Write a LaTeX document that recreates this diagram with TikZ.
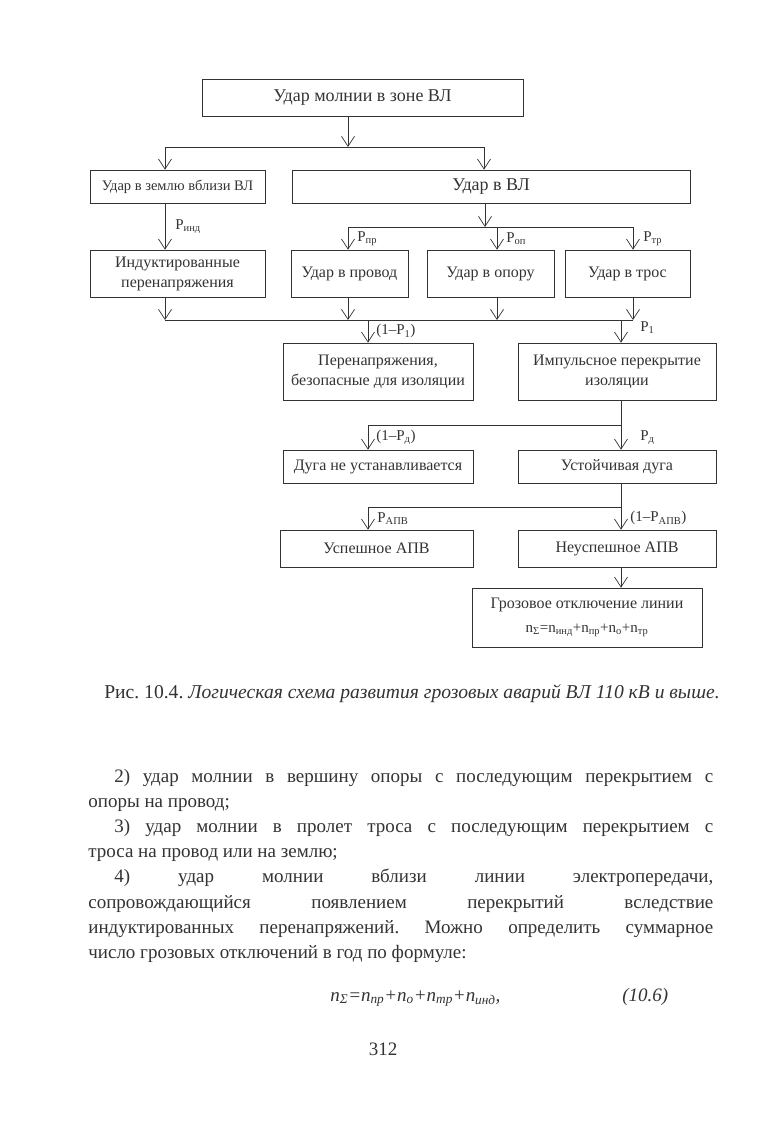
\documentclass[tikz,border=0pt]{standalone}
\usepackage{fontspec}
\setmainfont{Liberation Serif}
\frenchspacing
\usetikzlibrary{arrows.meta, positioning, calc}

\begin{document}
\begin{tikzpicture}[x=1pt, y=-1pt, line width=0.7pt, color=black!80,
  box/.style={draw, rectangle, align=center, inner sep=1pt, font=\fontsize{16}{20}\selectfont},
  big/.style={font=\fontsize{18}{22}\selectfont},
  lbl/.style={anchor=west, inner sep=1pt, font=\fontsize{15}{17}\selectfont},
  arrow/.style={-{Straight Barb[length=10pt, width=13pt]}},
  body/.style={anchor=north west, text width=625pt, align=justify, inner sep=0pt, font=\fontsize{19}{25.1}\selectfont},
  plain/.style={anchor=base west, inner sep=0pt, font=\fontsize{19}{23}\selectfont}]
\fill[white] (0,0) rectangle (772,1121);
\useasboundingbox (0,0) rectangle (772,1121);

\node[box, big, minimum width=321pt, minimum height=37pt] (zone) at (362.5,97.5) {Удар молнии в зоне ВЛ};
\node[box, font=\fontsize{14.5}{18}\selectfont, minimum width=175pt, minimum height=33pt] (ground) at (177.5,186.5) {Удар в землю вблизи ВЛ};
\node[box, big, minimum width=398pt, minimum height=33pt] (hit) at (491,186.5) {Удар в ВЛ};
\node[box, minimum width=175pt, minimum height=47pt] (induced) at (177.5,273.5) {Индуктированные\\перенапряжения};
\node[box, minimum width=117pt, minimum height=47pt] (wire) at (349.5,273.5) {Удар в провод};
\node[box, minimum width=127pt, minimum height=47pt] (tower) at (490.5,273.5) {Удар в опору};
\node[box, minimum width=125pt, minimum height=47pt] (cable) at (627.5,273.5) {Удар в трос};
\node[box, minimum width=190pt, minimum height=57pt] (safe) at (378,371.5) {Перенапряжения,\\безопасные для изоляции};
\node[box, minimum width=198pt, minimum height=57pt] (flash) at (617,371.5) {Импульсное перекрытие\\изоляции};
\node[box, minimum width=190pt, minimum height=33pt] (noarc) at (378,466.5) {Дуга не устанавливается};
\node[box, minimum width=198pt, minimum height=33pt] (arc) at (617,466.5) {Устойчивая дуга};
\node[box, minimum width=193pt, minimum height=37pt] (arok) at (376.5,548.5) {Успешное АПВ};
\node[box, minimum width=198pt, minimum height=37pt] (arfail) at (617,548.5) {Неуспешное АПВ};
\node[box, minimum width=230pt, minimum height=59pt] (trip) at (587,617.5) {Грозовое отключение линии\\[4pt]{\fontsize{15}{17}\selectfont n\textsubscript{Σ}=n\textsubscript{инд}+n\textsubscript{пр}+n\textsubscript{о}+n\textsubscript{тр}}};

\coordinate (a0) at (348,147);
\coordinate (a1) at (165,147);
\coordinate (a2) at (484,147);
\draw[arrow] (zone.south -| a0) -- (a0);
\draw (a1) -- (a2);
\draw[arrow] (a1) -- (a1 |- ground.north);
\draw[arrow] (a2) -- (a2 |- hit.north);
\draw[arrow] (ground.south -| a1) -- (induced.north -| a1) node[lbl, midway, xshift=9pt] {P\textsubscript{инд}};

\coordinate (b0) at (485,227);
\coordinate (b1) at (348,227);
\coordinate (b2) at (497,227);
\coordinate (b3) at (633,227);
\draw[arrow] (hit.south -| b0) -- (b0);
\draw (b1) -- (b3);
\draw[arrow] (b1) -- (b1 |- wire.north) node[lbl, midway, xshift=8pt] {P\textsubscript{пр}};
\draw[arrow] (b2) -- (b2 |- tower.north) node[lbl, midway, xshift=8pt] {P\textsubscript{оп}};
\draw[arrow] (b3) -- (b3 |- cable.north) node[lbl, midway, xshift=9pt] {P\textsubscript{тр}};

\coordinate (c1) at (165,320);
\coordinate (c2) at (348,320);
\coordinate (c3) at (497,320);
\coordinate (c4) at (633,320);
\coordinate (c5) at (368,320);
\coordinate (c6) at (621,320);
\draw[arrow] (induced.south -| c1) -- (c1);
\draw[arrow] (wire.south -| c2) -- (c2);
\draw[arrow] (tower.south -| c3) -- (c3);
\draw[arrow] (cable.south -| c4) -- (c4);
\draw (c1) -- (c4);
\draw[arrow] (c5) -- (c5 |- safe.north) node[lbl, midway, xshift=7pt] {(1--P\textsubscript{1})};
\draw[arrow] (c6) -- (c6 |- flash.north) node[lbl, midway, xshift=18pt, yshift=4pt] {P\textsubscript{1}};

\coordinate (d0) at (621,425);
\coordinate (d1) at (368,425);
\draw (flash.south -| d0) -- (d0) -- (d1);
\draw[arrow] (d1) -- (d1 |- noarc.north) node[lbl, midway, xshift=7pt] {(1--P\textsubscript{д})};
\draw[arrow] (d0) -- (d0 |- arc.north) node[lbl, midway, xshift=18pt] {P\textsubscript{д}};

\coordinate (e0) at (621,507);
\coordinate (e1) at (368,507);
\draw (arc.south -| e0) -- (e0) -- (e1);
\draw[arrow] (e1) -- (e1 |- arok.north) node[lbl, midway, xshift=8pt] {P\textsubscript{АПВ}};
\draw[arrow] (e0) -- (e0 |- arfail.north) node[lbl, midway, xshift=8pt] {(1--P\textsubscript{АПВ})};
\draw[arrow] (arfail.south -| e0) -- (e0 |- trip.north);

\node[plain, font=\fontsize{19.6}{23}\selectfont] (caption) at (104,698) {Рис. 10.4. \textit{Логическая схема развития грозовых аварий ВЛ 110 кВ и выше.}};
\node[body] (text) at (88,769) {\hspace*{26pt}2) удар молнии в вершину опоры с последующим перекрытием с\linebreak опоры на провод;\par
\hspace*{26pt}3) удар молнии в пролет троса с последующим перекрытием с\linebreak троса на провод или на землю;\par
\hspace*{26pt}4) удар молнии вблизи линии электропередачи,\linebreak сопровождающийся появлением перекрытий вследствие\linebreak индуктированных перенапряжений. Можно определить суммарное\linebreak число грозовых отключений в год по формуле:};
\node[plain, font=\fontsize{19}{23}\selectfont\itshape] (formula) at (330,1001) {n\textsubscript{Σ}=n\textsubscript{пр}+n\textsubscript{о}+n\textsubscript{тр}+n\textsubscript{инд},};
\node[plain, font=\fontsize{19}{23}\selectfont\itshape] (eqno) at (622,1001) {(10.6)};
\node[plain, anchor=base] (page) at (383,1055) {312};
\end{tikzpicture}
\end{document}
